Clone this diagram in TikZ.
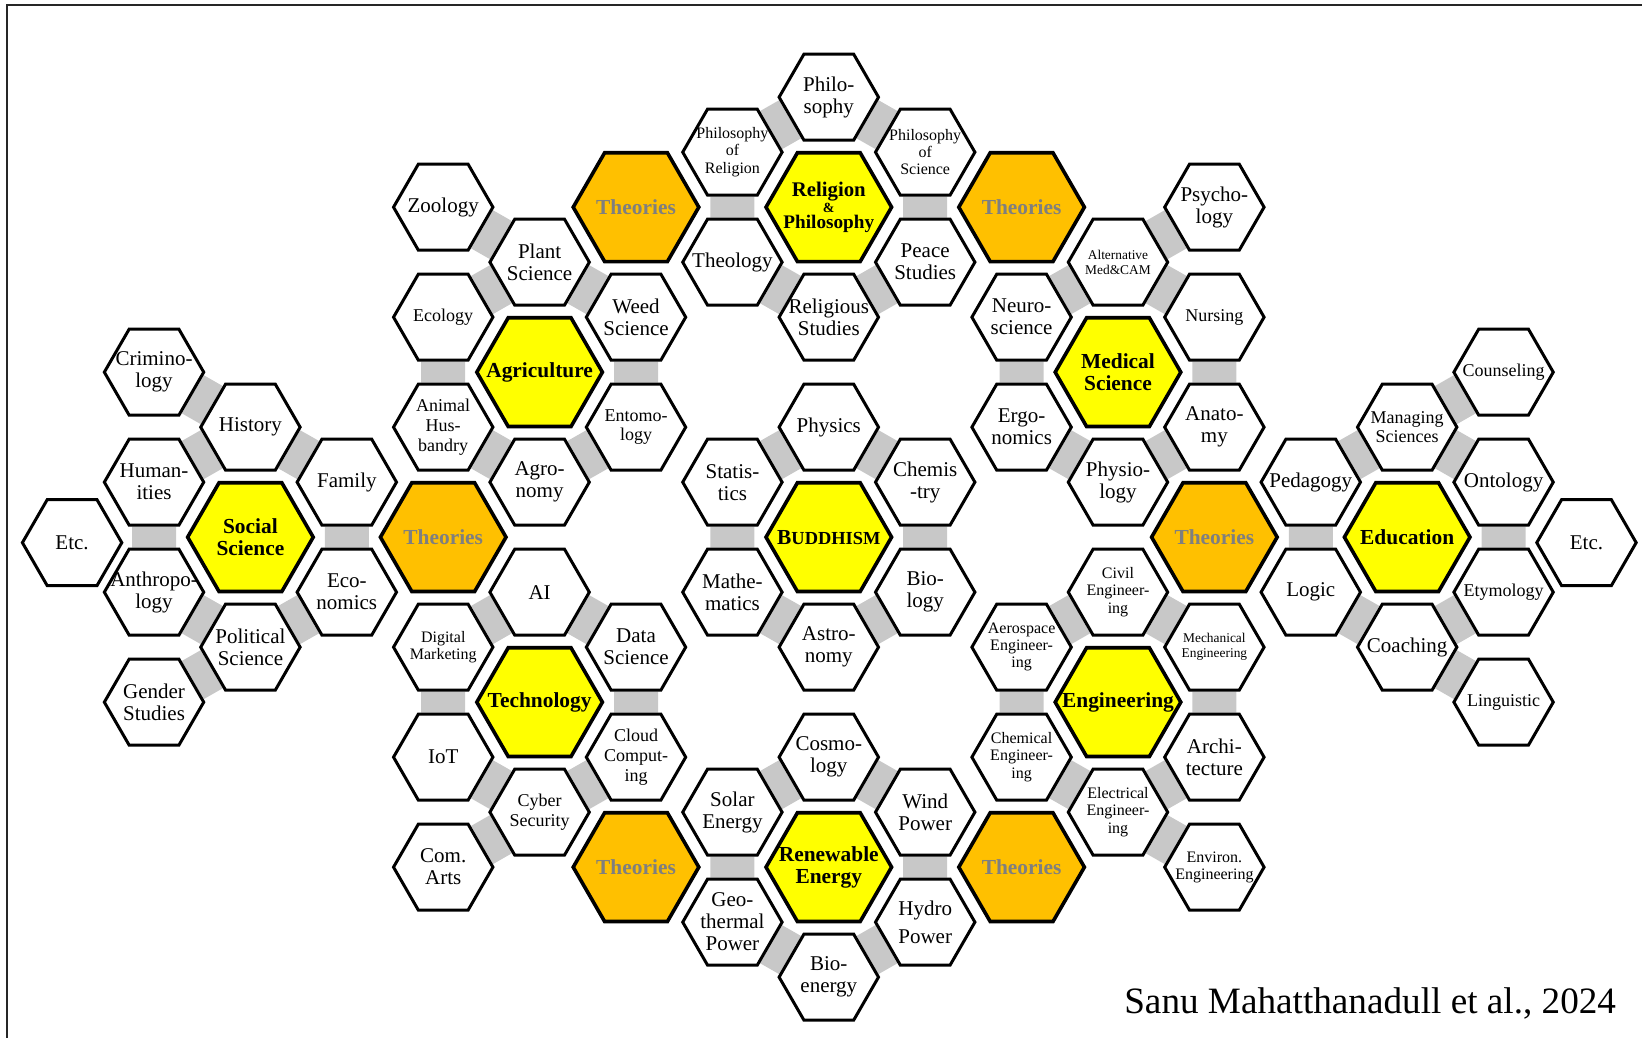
\documentclass[tikz,border=0pt]{standalone}
\usepackage{fontspec}
\setmainfont{Liberation Serif}
\usepackage{tikz}
\usetikzlibrary{shapes.geometric, backgrounds}

\definecolor{hexyellow}{RGB}{255,255,0}
\definecolor{hexorange}{RGB}{255,192,0}
\definecolor{theorygray}{RGB}{127,127,127}
\definecolor{linkgray}{RGB}{200,200,200}

\begin{document}
\begin{tikzpicture}[x=48.2pt,y=-27.5pt,
    hex/.style={regular polygon, regular polygon sides=6,
        draw=black, line width=1.5pt, fill=white, inner sep=-10pt, align=center,
        minimum size=49.7pt, font=\fontsize{10.5}{11}\selectfont},
    big/.style={hex, minimum size=62.8pt, line width=1.8pt, fill=hexyellow,
        font=\bfseries\fontsize{10.7}{11.2}\selectfont},
    theory/.style={big, fill=hexorange, text=theorygray},
    f9/.style={font=\fontsize{9}{9.8}\selectfont},
    f8/.style={font=\fontsize{8}{8.6}\selectfont},
    f7/.style={font=\fontsize{6.7}{7.4}\selectfont},
    link/.style={draw=linkgray, line width=22pt}]
    \useasboundingbox (-8.598,-9.767) rectangle (8.436,9.105);
    \draw[line width=1.1pt, black!85] (-8.525,9.105) -- (-8.525,-9.676) -- (8.436,-9.676);

    % social science
    \node[hex] (etcL) at (-7.85,0.1) {Etc.};
    \node[hex] (crim) at (-7,-3) {Crimino-\\logy};
    \node[hex] (hist) at (-6,-2) {History};
    \node[hex] (human) at (-7,-1) {Human-\\ities};
    \node[hex] (family) at (-5,-1) {Family};
    \node[big] (social) at (-6,0) {Social\\Science};
    \node[hex] (anthro) at (-7,1) {Anthropo-\\logy};
    \node[hex] (econ) at (-5,1) {Eco-\\nomics};
    \node[hex] (polsci) at (-6,2) {Political\\Science};
    \node[hex] (gender) at (-7,3) {Gender\\Studies};

    % agriculture
    \node[hex] (zool) at (-4,-6) {Zoology};
    \node[hex] (plant) at (-3,-5) {Plant\\Science};
    \node[hex, f9] (ecol) at (-4,-4) {Ecology};
    \node[hex] (weed) at (-2,-4) {Weed\\Science};
    \node[big] (agri) at (-3,-3) {Agriculture};
    \node[hex, f9] (animal) at (-4,-2) {Animal\\Hus-\\bandry};
    \node[hex, f9] (ento) at (-2,-2) {Entomo-\\logy};
    \node[hex] (agro) at (-3,-1) {Agro-\\nomy};
    \node[theory] (theoW) at (-4,0) {Theories};

    % technology
    \node[hex] (ai) at (-3,1) {AI};
    \node[hex, f8] (digi) at (-4,2) {Digital\\Marketing};
    \node[hex] (data) at (-2,2) {Data\\Science};
    \node[big] (tech) at (-3,3) {Technology};
    \node[hex] (iot) at (-4,4) {IoT};
    \node[hex, f9] (cloud) at (-2,4) {Cloud\\Comput-\\ing};
    \node[hex, f9] (cyber) at (-3,5) {Cyber\\Security};
    \node[hex] (comarts) at (-4,6) {Com.\\Arts};
    \node[theory] (theoSW) at (-2,6) {Theories};

    % religion and philosophy
    \node[hex] (philo) at (0,-8) {Philo-\\sophy};
    \node[hex, f8] (philrel) at (-1,-7) {Philosophy\\of\\Religion};
    \node[hex, f8] (philsci) at (1,-7) {Philosophy\\of\\Science};
    \node[theory] (theoNW) at (-2,-6) {Theories};
    \node[big, font=\bfseries\fontsize{9.6}{9}\selectfont] (relphil) at (0,-6)
        {{\fontsize{10.4}{9}\selectfont Religion}\\[-1pt]{\fontsize{7}{7}\selectfont\&}\\[-1pt]Philosophy};
    \node[theory] (theoNE) at (2,-6) {Theories};
    \node[hex] (theol) at (-1,-5) {Theology};
    \node[hex] (peace) at (1,-5) {Peace\\Studies};
    \node[hex] (relstud) at (0,-4) {Religious\\Studies};

    % buddhism
    \node[hex] (phys) at (0,-2) {Physics};
    \node[hex] (stat) at (-1,-1) {Statis-\\tics};
    \node[hex] (chem) at (1,-1) {Chemis\\-try};
    \node[big] (buddh) at (0,0) {B{\fontsize{9.2}{10}\selectfont UDDHISM}};
    \node[hex] (math) at (-1,1) {Mathe-\\matics};
    \node[hex] (bio) at (1,1) {Bio-\\logy};
    \node[hex] (astro) at (0,2) {Astro-\\nomy};

    % renewable energy
    \node[hex] (cosmo) at (0,4) {Cosmo-\\logy};
    \node[hex] (solar) at (-1,5) {Solar\\Energy};
    \node[hex] (wind) at (1,5) {Wind\\Power};
    \node[big] (renew) at (0,6) {Renewable\\Energy};
    \node[hex] (geo) at (-1,7) {Geo-\\thermal\\Power};
    \node[hex] (hydro) at (1,7) {Hydro\\[3pt]Power};
    \node[hex] (bioen) at (0,8) {Bio-\\energy};

    % medical science
    \node[hex] (psych) at (4,-6) {Psycho-\\logy};
    \node[hex, f7] (altmed) at (3,-5) {Alternative\\Med\&CAM};
    \node[hex, f9] (nurs) at (4,-4) {Nursing};
    \node[hex] (neuro) at (2,-4) {Neuro-\\science};
    \node[big] (med) at (3,-3) {Medical\\Science};
    \node[hex] (ergo) at (2,-2) {Ergo-\\nomics};
    \node[hex] (anat) at (4,-2) {Anato-\\my};
    \node[hex] (physio) at (3,-1) {Physio-\\logy};
    \node[theory] (theoE) at (4,0) {Theories};

    % engineering
    \node[hex, f8] (civil) at (3,1) {Civil\\Engineer-\\ing};
    \node[hex, f8] (aero) at (2,2) {Aerospace\\Engineer-\\ing};
    \node[hex, f7] (mech) at (4,2) {Mechanical\\Engineering};
    \node[big] (eng) at (3,3) {Engineering};
    \node[hex, f8] (chemeng) at (2,4) {Chemical\\Engineer-\\ing};
    \node[hex] (arch) at (4,4) {Archi-\\tecture};
    \node[hex, f8] (elec) at (3,5) {Electrical\\Engineer-\\ing};
    \node[hex, f8] (env) at (4,6) {Environ.\\Engineering};
    \node[theory] (theoSE) at (2,6) {Theories};

    % education
    \node[hex, f9] (couns) at (7,-3) {Counseling};
    \node[hex, f9] (manag) at (6,-2) {Managing\\Sciences};
    \node[hex] (ped) at (5,-1) {Pedagogy};
    \node[hex] (onto) at (7,-1) {Ontology};
    \node[big] (edu) at (6,0) {Education};
    \node[hex] (etcR) at (7.86,0.1) {Etc.};
    \node[hex] (logic) at (5,1) {Logic};
    \node[hex, f9] (etym) at (7,1) {Etymology};
    \node[hex] (coach) at (6,2) {Coaching};
    \node[hex, f9] (ling) at (7,3) {Linguistic};

    \node[anchor=east, font=\fontsize{18.6}{20}\selectfont] (cite) at (8.24,8.47)
        {Sanu Mahatthanadull et al., 2024};

    \begin{scope}[on background layer]
    \draw[link] (crim) -- (hist);
    \draw[link] (human) -- (hist);
    \draw[link] (hist) -- (family);
    \draw[link] (human) -- (anthro);
    \draw[link] (family) -- (econ);
    \draw[link] (anthro) -- (polsci);
    \draw[link] (econ) -- (polsci);
    \draw[link] (gender) -- (polsci);

    \draw[link] (zool) -- (plant);
    \draw[link] (ecol) -- (plant);
    \draw[link] (plant) -- (weed);
    \draw[link] (ecol) -- (animal);
    \draw[link] (weed) -- (ento);
    \draw[link] (animal) -- (agro);
    \draw[link] (ento) -- (agro);

    \draw[link] (ai) -- (data);
    \draw[link] (ai) -- (digi);
    \draw[link] (digi) -- (iot);
    \draw[link] (data) -- (cloud);
    \draw[link] (iot) -- (cyber);
    \draw[link] (cloud) -- (cyber);
    \draw[link] (comarts) -- (cyber);

    \draw[link] (philo) -- (philrel);
    \draw[link] (philo) -- (philsci);
    \draw[link] (philrel) -- (theol);
    \draw[link] (philsci) -- (peace);
    \draw[link] (theol) -- (relstud);
    \draw[link] (peace) -- (relstud);

    \draw[link] (phys) -- (stat);
    \draw[link] (phys) -- (chem);
    \draw[link] (stat) -- (math);
    \draw[link] (chem) -- (bio);
    \draw[link] (math) -- (astro);
    \draw[link] (bio) -- (astro);

    \draw[link] (cosmo) -- (solar);
    \draw[link] (cosmo) -- (wind);
    \draw[link] (solar) -- (geo);
    \draw[link] (wind) -- (hydro);
    \draw[link] (geo) -- (bioen);
    \draw[link] (hydro) -- (bioen);

    \draw[link] (psych) -- (altmed);
    \draw[link] (altmed) -- (nurs);
    \draw[link] (altmed) -- (neuro);
    \draw[link] (nurs) -- (anat);
    \draw[link] (neuro) -- (ergo);
    \draw[link] (anat) -- (physio);
    \draw[link] (ergo) -- (physio);

    \draw[link] (civil) -- (mech);
    \draw[link] (civil) -- (aero);
    \draw[link] (aero) -- (chemeng);
    \draw[link] (mech) -- (arch);
    \draw[link] (chemeng) -- (elec);
    \draw[link] (arch) -- (elec);
    \draw[link] (elec) -- (env);

    \draw[link] (couns) -- (manag);
    \draw[link] (manag) -- (ped);
    \draw[link] (manag) -- (onto);
    \draw[link] (ped) -- (logic);
    \draw[link] (onto) -- (etym);
    \draw[link] (logic) -- (coach);
    \draw[link] (etym) -- (coach);
    \draw[link] (coach) -- (ling);
    \end{scope}
\end{tikzpicture}
\end{document}
